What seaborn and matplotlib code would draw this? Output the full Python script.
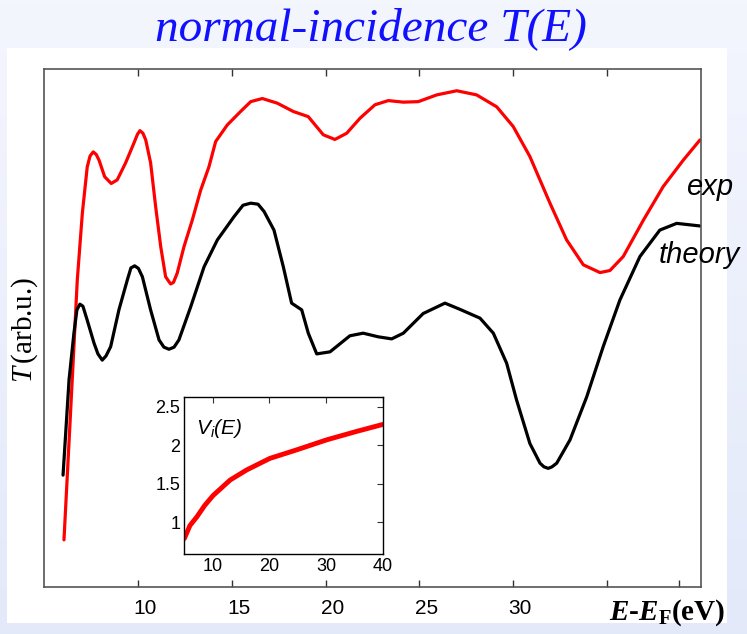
import numpy as np
import pandas as pd
import matplotlib
matplotlib.use("Agg")
import matplotlib.pyplot as plt
import matplotlib.transforms as mtransforms
from matplotlib.patches import Rectangle
from matplotlib.ticker import FormatStrFormatter
import seaborn as sns

# Measured transmission T(E) (arbitrary units)
energy_exp = [6.05, 6.49, 6.76, 7.03, 7.29, 7.44, 7.61, 7.77, 7.92, 8.22, 8.57, 8.89,
              9.34, 9.78, 9.97, 10.10, 10.26, 10.41, 10.67, 10.94, 11.21, 11.47, 11.62,
              11.74, 11.89, 12.09, 12.45, 12.89, 13.34, 13.78, 14.14, 14.76, 15.47,
              16.01, 16.63, 17.43, 18.28, 19.08, 19.88, 20.50, 21.13, 21.84, 22.64,
              23.35, 24.15, 24.95, 25.93, 27.00, 28.06, 29.13, 30.01, 30.90, 31.97,
              32.86, 33.75, 34.64, 35.17, 35.88, 36.95, 38.01, 39.08, 39.97]
t_exp = [0.91, 4.00, 5.93, 7.22, 8.11, 8.32, 8.40, 8.35, 8.24, 7.92, 7.79, 7.86,
         8.19, 8.57, 8.74, 8.81, 8.76, 8.63, 8.19, 7.34, 6.57, 5.99, 5.91,
         5.85, 5.88, 6.06, 6.57, 7.08, 7.66, 8.11, 8.60, 8.92, 9.18,
         9.37, 9.43, 9.34, 9.18, 9.08, 8.73, 8.64, 8.76, 9.05, 9.31,
         9.39, 9.36, 9.37, 9.50, 9.58, 9.50, 9.27, 8.89, 8.31, 7.41,
         6.70, 6.22, 6.07, 6.11, 6.38, 7.08, 7.73, 8.24, 8.63]

# Calculated transmission T(E)
energy_theory = [6.00, 6.32, 6.58, 6.74, 6.90, 7.06, 7.29, 7.65, 7.86, 8.09, 8.29, 8.54,
                 8.98, 9.43, 9.62, 9.82, 10.02, 10.23, 10.67, 11.12, 11.38, 11.65, 11.92,
                 12.18, 12.81, 13.52, 14.23, 15.12, 15.60, 16.01, 16.40, 16.72, 17.25,
                 17.75, 18.19, 18.73, 19.08, 19.53, 20.24, 21.30, 22.01, 22.81, 23.53,
                 24.15, 25.21, 26.37, 27.17, 28.24, 28.95, 29.66, 30.19, 30.90, 31.44,
                 31.65, 31.88, 32.08, 32.33, 33.04, 33.93, 34.81, 35.70, 36.77, 37.83,
                 38.73, 39.97]
t_theory = [2.16, 4.00, 4.90, 5.35, 5.46, 5.42, 5.15, 4.71, 4.50, 4.38, 4.46, 4.64,
            5.35, 5.93, 6.16, 6.20, 6.15, 5.99, 5.35, 4.77, 4.63, 4.59, 4.63,
            4.77, 5.41, 6.18, 6.70, 7.15, 7.37, 7.41, 7.39, 7.25, 6.89,
            6.18, 5.48, 5.35, 4.90, 4.50, 4.54, 4.85, 4.90, 4.83, 4.79,
            4.90, 5.28, 5.48, 5.36, 5.19, 4.90, 4.32, 3.61, 2.77, 2.39,
            2.32, 2.29, 2.32, 2.39, 2.84, 3.67, 4.64, 5.54, 6.38, 6.89,
            7.02, 6.97]

# Imaginary part of the optical potential V_i(E)
energy_v = [5.0, 6.0, 7.2, 8.6, 10.1, 13.1, 16.0, 20.1, 24.8, 30.1, 35.4, 40.0]
v_inner = [0.79, 0.96, 1.07, 1.22, 1.35, 1.55, 1.68, 1.83, 1.94, 2.07, 2.18, 2.27]

main_xticks = [10, 15, 20, 25, 30, 35]
main_xticklabels = ["10", "15", "20", "25", "30", ""]
inset_xticks = [10, 20, 30, 40]
inset_yticks = [1, 1.5, 2, 2.5]

sns.set_theme(style="white")
plt.rcParams["font.family"] = ["Liberation Sans", "DejaVu Sans"]
plt.rcParams["text.color"] = "black"
plt.rcParams["mathtext.fontset"] = "custom"
plt.rcParams["mathtext.rm"] = "Liberation Serif:bold"
plt.rcParams["mathtext.it"] = "Liberation Serif:italic"
plt.rcParams["mathtext.bf"] = "Liberation Serif:bold"
plt.rcParams["mathtext.bfit"] = "Liberation Serif:bold:italic"
plt.rcParams["mathtext.sf"] = "Liberation Sans:italic"

W, H = 747, 634
fig = plt.figure(figsize=(W / 100, H / 100), dpi=100)

# slide background: soft vertical gradient
bg = fig.add_axes([0, 0, 1, 1], zorder=-3)
top_c = np.array([0.957, 0.965, 0.996])
bot_c = np.array([0.890, 0.914, 0.978])
t = np.linspace(0, 1, 256)[:, None, None]
grad = top_c * (1 - t) + bot_c * t
grad = np.repeat(grad, 4, axis=1)
bg.imshow(grad, aspect="auto", extent=[0, 1, 0, 1])
bg.set_axis_off()

# white panel behind the chart
fig.patches.append(Rectangle((7 / W, 1 - 623 / H), (727 - 7) / W, (623 - 48) / H,
                             transform=fig.transFigure, facecolor="white",
                             edgecolor="none", zorder=-2))

# main axes
ax = fig.add_axes([44.3 / W, 1 - 587 / H, (700.5 - 44.3) / W, (587 - 69) / H])
ax.patch.set_alpha(0)
df_exp = pd.DataFrame({"E": energy_exp, "T": t_exp})
df_th = pd.DataFrame({"E": energy_theory, "T": t_theory})
line_kw = dict(estimator=None, sort=False, solid_joinstyle="round",
               solid_capstyle="round")
sns.lineplot(data=df_exp, x="E", y="T", ax=ax, color="#ff0000", lw=2.3, **line_kw)
sns.lineplot(data=df_th, x="E", y="T", ax=ax, color="black", lw=2.3, **line_kw)
ax.set_xlim(5, 40)
ax.set_ylim(0, 10)
ax.set_xlabel("")
ax.set_ylabel("")
ax.set_yticks([])
ax.set_xticks(main_xticks)
ax.set_xticklabels(main_xticklabels, fontsize=15)
ax.set_xticks([38.85], minor=True)
ax.tick_params(axis="x", which="major", direction="in", length=5, width=1,
               top=True, bottom=True, pad=9, colors="#333333", labelcolor="black")
ax.tick_params(axis="x", which="minor", direction="in", length=5, width=1,
               top=False, bottom=True, colors="#333333")
for s in ax.spines.values():
    s.set_color("#555555")
    s.set_linewidth(1.2)
offset = mtransforms.ScaledTranslation(7 / 100, 0, fig.dpi_scale_trans)
for lab in ax.get_xticklabels():
    lab.set_transform(lab.get_transform() + offset)

# curve labels
fig.text(686 / W, 1 - 195 / H, "exp", fontsize=21, style="italic",
         ha="left", va="baseline")
fig.text(659 / W, 1 - 263 / H, "theory", fontsize=21, style="italic",
         ha="left", va="baseline")

# axis titles
fig.text(25 / W, 1 - 330 / H, r"$T\,$(arb.u.)", rotation=90, fontsize=21,
         family="Liberation Serif", ha="center", va="center")
fig.text(725 / W, 1 - 620 / H, r"$\mathbfit{E}$-$\mathbfit{E}_{\mathbf{F}}$(eV)",
         fontsize=21, family="Liberation Serif", weight="bold",
         ha="right", va="baseline")

# title
fig.text(371 / W, 1 - 40 / H, "normal-incidence T(E)", fontsize=34,
         family="Liberation Serif", style="italic", color="#1010ff",
         ha="center", va="baseline")

# inset: V_i(E)
axi = fig.add_axes([184.3 / W, 1 - 554 / H, (382.7 - 184.3) / W, (554 - 396.7) / H])
axi.set_facecolor("white")
df_v = pd.DataFrame({"E": energy_v, "V": v_inner})
sns.lineplot(data=df_v, x="E", y="V", ax=axi, color="#ff0000", lw=3.5, **line_kw)
axi.set_xlim(5, 40)
axi.set_ylim(0.59, 2.63)
axi.set_xlabel("")
axi.set_ylabel("")
axi.set_xticks(inset_xticks)
axi.set_yticks(inset_yticks)
axi.yaxis.set_major_formatter(FormatStrFormatter("%g"))
axi.tick_params(direction="in", length=4, width=0.8, top=True, right=True,
                labelsize=13, pad=3, colors="#333333", labelcolor="black")
for s in axi.spines.values():
    s.set_color("black")
    s.set_linewidth(1.0)
axi.text(0.06, 0.80, r"$\mathsf{V}_{\mathsf{i}}\mathsf{(E)}$", transform=axi.transAxes,
         fontsize=15, ha="left", va="center", color="black")

fig.savefig("out.png", dpi=100)
